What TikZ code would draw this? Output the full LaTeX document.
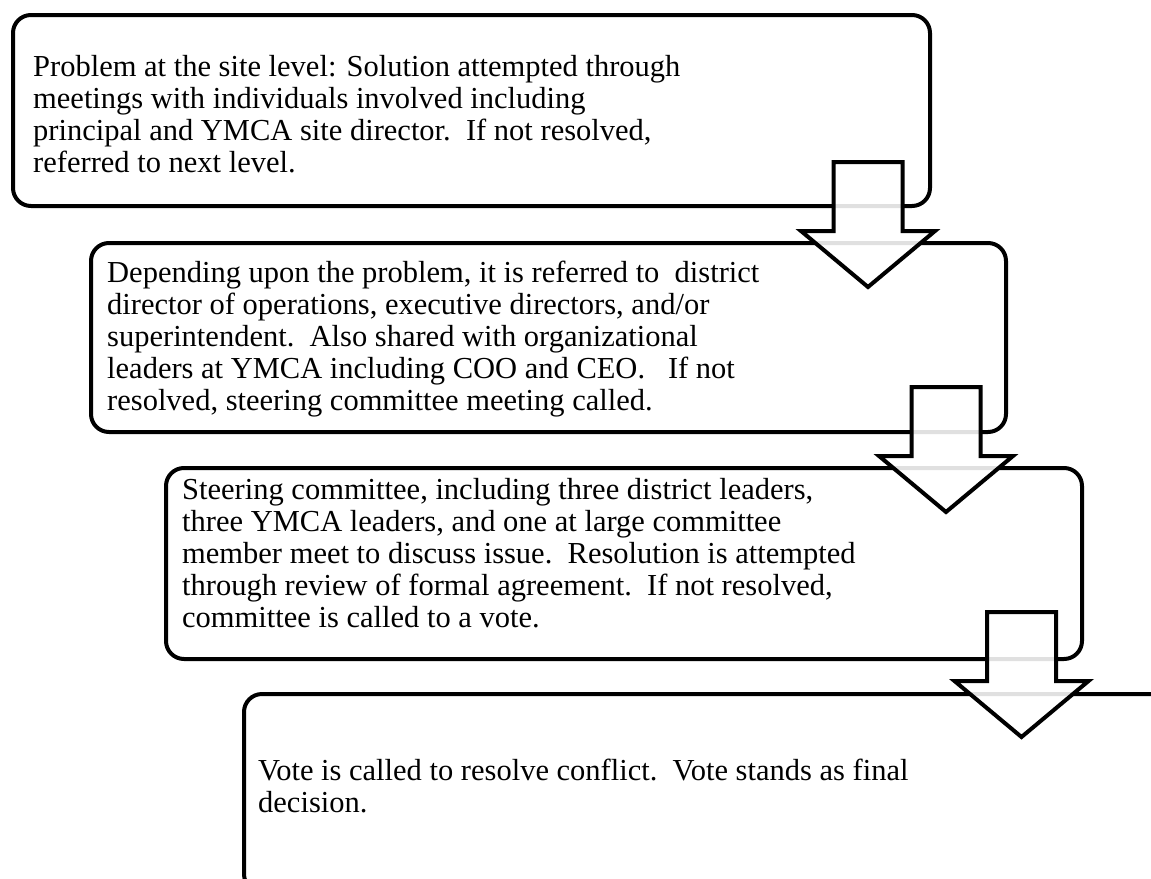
\documentclass[tikz,border=0pt]{standalone}
\usepackage{fontspec}
\setmainfont{Liberation Serif}
\begin{document}
\begin{tikzpicture}[x=1pt,y=-1pt,
  stepbox/.style={draw=black, line width=4pt, rounded corners=18pt, inner sep=0pt, outer sep=0pt, anchor=north west, fill=white},
  boxtext/.style={anchor=north west, inner sep=0pt, align=left, font=\fontsize{30.5}{32}\selectfont},
  barrow/.style={draw=black, line width=4pt, fill=white, fill opacity=0.88, line join=miter}]
\useasboundingbox (0,0) rectangle (1151,878);
\fill[white] (0,0) rectangle (1151,878);
\clip (0,0) rectangle (1151,878);
\newcommand{\blockarrow}[2]{%
  \draw[barrow] (#1-34.5,#2) -- ++(69,0) -- ++(0,69) -- ++(32.5,0) -- (#1,#2+125) -- (#1-67,#2+69) -- ++(32.5,0) -- cycle;}
% boxes
\node[stepbox, minimum width=917pt, minimum height=191pt] (b1) at (13,15) {};
\node[stepbox, minimum width=915pt, minimum height=189pt] (b2) at (91,243) {};
\node[stepbox, minimum width=916pt, minimum height=191pt] (b3) at (166,468) {};
\node[stepbox, minimum width=926pt, minimum height=198pt] (b4) at (244,694) {};
% texts
\node[boxtext] (t1) at (33,53.6) {\strut Problem at the site level: Solution attempted through\\meetings with individuals involved including\\principal and YMCA site director.\ \ If not resolved,\\referred to next level.};
\node[boxtext] (t2) at (107,259.6) {\strut Depending upon the problem, it is referred to\ \ district\\director of operations, executive directors, and/or\\superintendent.\ \ Also shared with organizational\\leaders at YMCA including COO and CEO.\ \ \ If not\\resolved, steering committee meeting called.};
\node[boxtext] (t3) at (182,476.6) {\strut Steering committee, including three district leaders,\\three YMCA leaders, and one at large committee\\member meet to discuss issue.\ \ Resolution is attempted\\through review of formal agreement.\ \ If not resolved,\\committee is called to a vote.};
\node[boxtext] (t4) at (258,757.6) {\strut Vote is called to resolve conflict.\ \ Vote stands as final\\decision.};
% block arrows
\blockarrow{868}{162}
\blockarrow{946}{387}
\blockarrow{1021.5}{612}
\end{tikzpicture}
\end{document}
